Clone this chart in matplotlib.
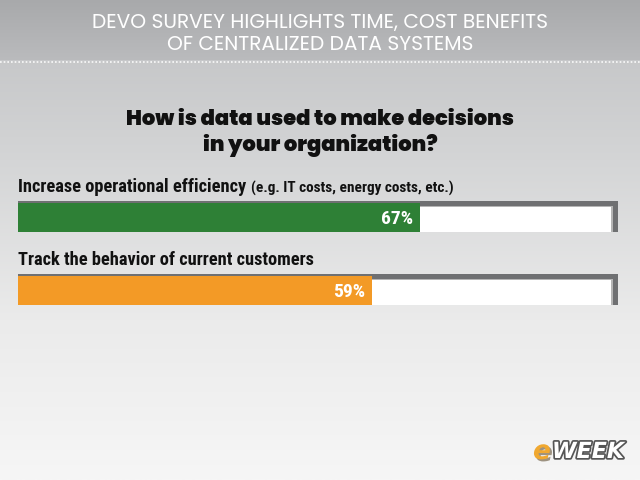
import numpy as np
import matplotlib
matplotlib.use("Agg")
import matplotlib.pyplot as plt
import matplotlib.patheffects as pe
from matplotlib.colors import LinearSegmentedColormap

# ---- data ----
header_lines = ["DEVO SURVEY HIGHLIGHTS TIME, COST BENEFITS", "OF CENTRALIZED DATA SYSTEMS"]
question_lines = ["How is data used to make decisions", "in your organization?"]
categories = ["Increase operational efficiency", "Track the behavior of current customers"]
subnotes = ["(e.g. IT costs, energy costs, etc.)", ""]
values = [67, 59]
bar_colors = ["#2e8036", "#f39a26"]

W, H = 640, 480
fig = plt.figure(figsize=(6.4, 4.8), dpi=100)

# background gradient
bg = fig.add_axes([0, 0, 1, 1])
bg.set_axis_off()
grad = np.linspace(0, 1, 256)[:, None]
cmap = LinearSegmentedColormap.from_list("bg", ["#bfc0c2", "#d4d5d6", "#ebebeb", "#f6f6f6"])
bg.imshow(grad, aspect="auto", cmap=cmap, extent=[0, W, H, 0])
hcmap = LinearSegmentedColormap.from_list("hd", ["#a8a9ab", "#babbbd"])
bg.imshow(grad, aspect="auto", cmap=hcmap, extent=[0, W, 60, 0])
bg.set_xlim(0, W)
bg.set_ylim(H, 0)
bg.plot([0, W], [62, 62], color="white", lw=1.2, ls=(0, (1, 1.2)), alpha=0.9)

head_font = ["Poppins", "Lato", "DejaVu Sans"]
for i, line in enumerate(header_lines):
    bg.text(320, 23 + i * 22, line, ha="center", va="center", color="white",
            fontsize=14.5, family=head_font, fontweight="normal")

for i, line in enumerate(question_lines):
    bg.text(320, 120 + i * 25, line, ha="center", va="center", fontsize=15.2,
            fontweight="black", family=["Poppins", "DejaVu Sans"], color="#111111")

# eWEEK logo
bg.text(533, 452, "e", ha="left", va="center", fontsize=19, fontweight="bold",
        style="italic", color="#f0a830", family="DejaVu Sans",
        path_effects=[pe.withSimplePatchShadow(offset=(1.5, -1.5), alpha=0.5)])
bg.text(552, 452, "WEEK", ha="left", va="center", fontsize=16, fontweight="bold",
        style="italic", color="white", family="DejaVu Sans",
        path_effects=[pe.withStroke(linewidth=2.5, foreground="#555555")])

# bars axes
top_px, bot_px = 180, 310
ax = fig.add_axes([18 / W, 1 - bot_px / H, 600 / W, (bot_px - top_px) / H])
ax.set_axis_off()
ax.set_xlim(0, 100)
step = 73.0
c0 = 37.5
ax.set_ylim((bot_px - top_px - c0) / step, -c0 / step)
bh = 29 / step
y = np.arange(len(values))

# track shadow and track
ax.barh(y - 0.012, 100, height=bh + 0.02, color="#6f7072", zorder=1)
ax.barh(y + 0.02, 99.2, height=bh - 0.03, color="#b5b5b5", zorder=1.5)
ax.barh(y + 0.03, 98.9, height=bh - 0.05, color="white", zorder=2)
ax.barh(y, values, height=bh, color=bar_colors, zorder=3)

lab_font = ["Roboto Condensed", "PT Sans Narrow", "Liberation Sans Narrow", "Roboto", "DejaVu Sans"]
for i, (cat, note, v) in enumerate(zip(categories, subnotes, values)):
    t = ax.text(0, i - 0.42, cat, ha="left", va="center", fontsize=13.2,
                fontweight="bold", family=lab_font, color="#111111")
    if note:
        fig.canvas.draw()
        bb = t.get_window_extent()
        inv = ax.transData.inverted()
        x1 = inv.transform((bb.x1, bb.y0))[0]
        ax.text(x1 + 0.8, i - 0.40, note, ha="left", va="center", fontsize=11,
                fontweight="bold", family=lab_font, color="#111111")
    ax.text(v - 1.2, i + 0.02, f"{v}%", ha="right", va="center", fontsize=14,
            fontweight="bold", family=lab_font, color="white")

fig.savefig("out.png", dpi=100)
